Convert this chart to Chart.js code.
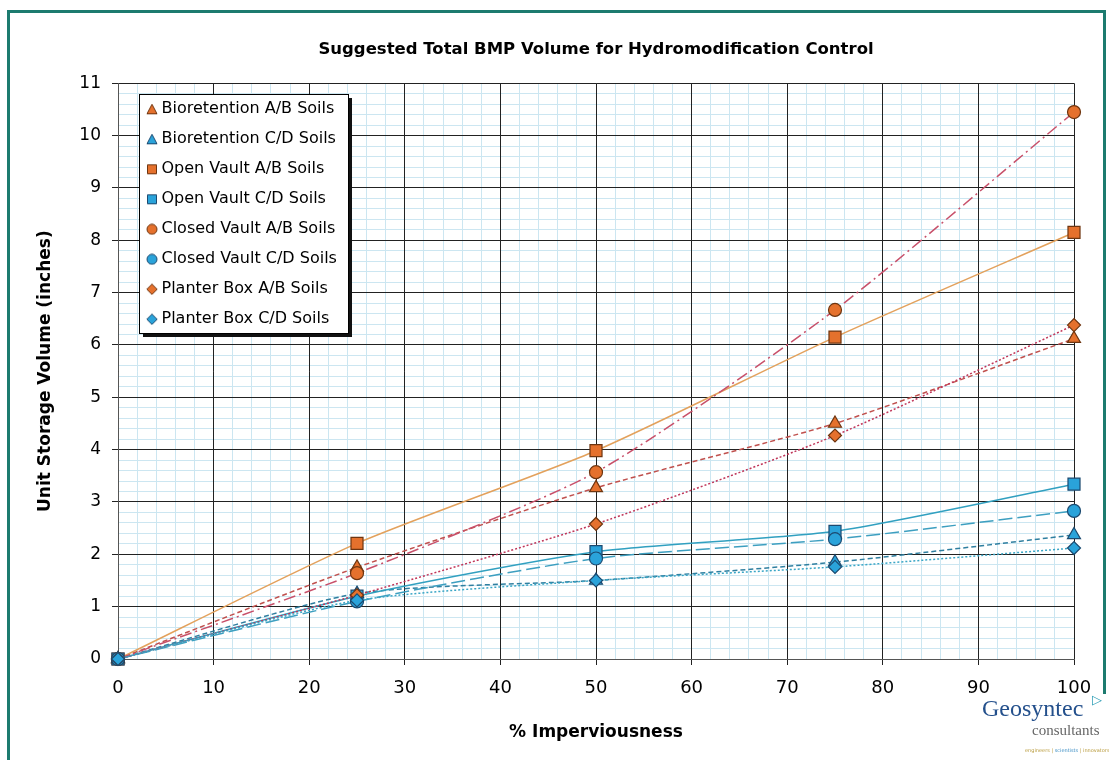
<!DOCTYPE html>
<html>
<head>
<meta charset="utf-8">
<title>Suggested Total BMP Volume for Hydromodification Control</title>
<script src="https://cdn.jsdelivr.net/npm/chart.js@4.4.0/dist/chart.umd.min.js"></script>
<style>
  html, body { margin: 0; padding: 0; background: #fff; }
  #wrap { position: relative; width: 1109px; height: 760px; overflow: hidden; }
  #frame { position: absolute; left: 7px; top: 10px; width: 1093px; height: 760px;
           border: 3px solid #1d7b6f; pointer-events: none; }
  #logo { position: absolute; left: 980px; top: 694px; width: 129px; height: 66px; background: #fff; }
  #logo .name { position: absolute; left: 2px; top: 1px; font: 24px "Liberation Serif", "DejaVu Serif", serif; color: #24508c; }
  #logo .tri { position: absolute; left: 112px; top: -2px; font: bold 13px "DejaVu Sans", sans-serif; color: #2a9cb4; }
  #logo .sub { position: absolute; left: 52px; top: 28px; font: 15px "Liberation Serif", "DejaVu Serif", serif; color: #666; }
  #logo .tag { position: absolute; left: 45px; top: 53px; font: 5px "DejaVu Sans", sans-serif; color: #b89a3a; white-space: nowrap; }
  #logo .tag span { color: #3d8fc4; }
</style>
</head>
<body>
<div id="wrap">
  <canvas id="bmpChart" width="1109" height="760"></canvas>
  <div id="frame"></div>
  <div id="logo">
    <div class="name">Geosyntec</div>
    <div class="tri">▷</div>
    <div class="sub">consultants</div>
    <div class="tag">engineers | <span>scientists</span> | innovators</div>
  </div>
</div>
<script>
// % imperviousness
const imperviousness = [0, 25, 50, 75, 100];

// unit storage volume (inches)
const bioretentionAB = [0, 1.75, 3.27, 4.50, 6.12];
const bioretentionCD = [0, 1.25, 1.50, 1.85, 2.37];
const openVaultAB    = [0, 2.21, 3.98, 6.15, 8.15];
const openVaultCD    = [0, 1.20, 2.05, 2.44, 3.34];
const closedVaultAB  = [0, 1.64, 3.57, 6.67, 10.45];
const closedVaultCD  = [0, 1.10, 1.92, 2.29, 2.83];
const planterBoxAB   = [0, 1.22, 2.58, 4.27, 6.38];
const planterBoxCD   = [0, 1.12, 1.50, 1.76, 2.12];

const xTicks = { min: 0, max: 100, step: 10 };
const yTicks = { min: 0, max: 11, step: 1 };

const FONT = "'DejaVu Sans', Verdana, sans-serif";
const ORANGE = '#e5712d', ORANGE_EDGE = '#6e3510';
const BLUE = '#2aa3da', BLUE_EDGE = '#1c4a70';
const MINOR = 'rgb(204,230,241)';

function toPoints(values) {
  return values.map((v, i) => ({ x: imperviousness[i], y: v }));
}

// small marker icons for the legend so every shape comes out the same size
function legendIcon(shape, fill, edge) {
  const s = 12, c = document.createElement('canvas');
  c.width = s; c.height = s;
  const g = c.getContext('2d');
  g.beginPath();
  if (shape === 'triangle') { g.moveTo(6, 1); g.lineTo(11, 10.5); g.lineTo(1, 10.5); g.closePath(); }
  else if (shape === 'rect') { g.rect(1.5, 1.5, 9, 9); }
  else if (shape === 'circle') { g.arc(6, 6, 5, 0, Math.PI * 2); }
  else { g.moveTo(6, 0.8); g.lineTo(11.2, 6); g.lineTo(6, 11.2); g.lineTo(0.8, 6); g.closePath(); }
  g.fillStyle = fill; g.fill();
  g.lineWidth = 1; g.strokeStyle = edge; g.stroke();
  return c;
}

function series(label, values, shape, radius, fill, edge, line, dash, order) {
  return {
    label: label,
    data: toPoints(values),
    xAxisID: 'x', yAxisID: 'y',
    order: order,
    borderColor: line,
    borderWidth: 1.5,
    borderDash: dash,
    backgroundColor: fill,
    pointStyle: shape,
    pointRadius: radius,
    pointHoverRadius: radius,
    pointBackgroundColor: fill,
    pointBorderColor: edge,
    pointBorderWidth: 1.2,
    legendIcon: legendIcon(shape, fill, edge),
    tension: 0.22,
    clip: false,
    fill: false
  };
}

const datasets = [
  series('Bioretention A/B Soils', bioretentionAB, 'triangle', 7.5, ORANGE, ORANGE_EDGE, '#c0504d', [5, 3], 8),
  series('Bioretention C/D Soils', bioretentionCD, 'triangle', 7.5, BLUE, BLUE_EDGE, '#2f7fa0', [5, 3], 7),
  series('Open Vault A/B Soils', openVaultAB, 'rect', 8.5, ORANGE, ORANGE_EDGE, '#e3a15c', [], 6),
  series('Open Vault C/D Soils', openVaultCD, 'rect', 8.5, BLUE, BLUE_EDGE, '#31a0c0', [], 5),
  series('Closed Vault A/B Soils', closedVaultAB, 'circle', 6.5, ORANGE, ORANGE_EDGE, '#c8506a', [12, 4, 2, 4], 4),
  series('Closed Vault C/D Soils', closedVaultCD, 'circle', 6.5, BLUE, BLUE_EDGE, '#3d9fc0', [14, 5], 3),
  series('Planter Box A/B Soils', planterBoxAB, 'rectRot', 6.5, ORANGE, ORANGE_EDGE, '#c0365a', [2, 2], 2),
  series('Planter Box C/D Soils', planterBoxCD, 'rectRot', 6.5, BLUE, BLUE_EDGE, '#3aa6c6', [2, 2], 1)
];

// white legend panel with drop shadow, drawn inside the plot area
const legendPanel = {
  id: 'legendPanel',
  afterLayout(chart) {
    const lg = chart.legend, ca = chart.chartArea;
    lg.left = ca.left + 18.5;
    lg.top = ca.top + 4;
    lg.right = ca.right;
    lg.bottom = ca.bottom;
    lg.width = lg.right - lg.left;
    lg.height = lg.bottom - lg.top;
  },
  afterDatasetsDraw(chart) {
    const lg = chart.legend, boxes = lg.legendHitBoxes;
    if (!boxes || !boxes.length) return;
    let l = Infinity, t = Infinity, r = -Infinity, b = -Infinity;
    boxes.forEach(h => {
      l = Math.min(l, h.left); t = Math.min(t, h.top);
      r = Math.max(r, h.left + h.width); b = Math.max(b, h.top + h.height);
    });
    l = Math.round(l - 12); t = Math.round(t - 7);
    r = Math.round(r + 11); b = Math.round(b + 6);
    const ctx = chart.ctx;
    ctx.save();
    ctx.fillStyle = '#111';
    ctx.fillRect(l + 4, t + 4, r - l, b - t);
    ctx.fillStyle = '#fff';
    ctx.fillRect(l, t, r - l, b - t);
    ctx.strokeStyle = '#000';
    ctx.lineWidth = 1;
    ctx.strokeRect(l + 0.5, t + 0.5, r - l, b - t);
    ctx.restore();
    lg.draw();
  }
};

new Chart('bmpChart', {
  type: 'line',
  data: { datasets: datasets },
  options: {
    responsive: false,
    animation: false,
    events: [],
    layout: { padding: { left: 20, right: 35, top: 0, bottom: 0 } },
    plugins: {
      title: {
        display: true,
        fullSize: false,
        text: 'Suggested Total BMP Volume for Hydromodification Control',
        color: '#000',
        font: { family: FONT, size: 16.5, weight: 'bold' },
        padding: { top: 40, bottom: 23.5 }
      },
      legend: {
        position: 'chartArea',
        align: 'start',
        labels: {
          usePointStyle: true,
          boxWidth: 3,
          boxHeight: 8,
          padding: 14,
          color: '#000',
          font: { family: FONT, size: 16 },
          generateLabels(chart) {
            return chart.data.datasets.map((ds, i) => ({
              text: ds.label,
              fillStyle: ds.pointBackgroundColor,
              strokeStyle: ds.pointBorderColor,
              lineWidth: 1,
              lineDash: [],
              pointStyle: ds.legendIcon,
              rotation: 0,
              hidden: false,
              fontColor: '#000',
              datasetIndex: i
            }));
          }
        }
      },
      tooltip: { enabled: false }
    },
    scales: {
      xMinor: {
        type: 'linear', position: 'bottom', min: xTicks.min, max: xTicks.max,
        ticks: { display: false, stepSize: 2 },
        grid: { color: MINOR, drawTicks: false },
        border: { display: false },
        afterFit(s) { s.height = 0; }
      },
      yMinor: {
        type: 'linear', position: 'left', min: yTicks.min, max: yTicks.max,
        ticks: { display: false, stepSize: 0.2 },
        grid: { color: MINOR, drawTicks: false },
        border: { display: false },
        afterFit(s) { s.width = 0; }
      },
      x: {
        type: 'linear', position: 'bottom', min: xTicks.min, max: xTicks.max,
        ticks: { stepSize: xTicks.step, color: '#000', padding: 13, font: { family: FONT, size: 18 } },
        grid: { color: '#222', tickLength: 6 },
        border: { color: '#555' },
        title: {
          display: true, text: '% Imperviousness', color: '#000',
          font: { family: FONT, size: 17, weight: 'bold' },
          padding: { top: 0, bottom: 17 }
        },
        afterFit(s) { s.height = 101; }
      },
      y: {
        type: 'linear', position: 'left', min: yTicks.min, max: yTicks.max,
        ticks: { stepSize: yTicks.step, color: '#000', padding: 11, font: { family: FONT, size: 17 } },
        grid: { color: '#222', tickLength: 6 },
        border: { color: '#555' },
        title: {
          display: true, text: 'Unit Storage Volume (inches)', color: '#000',
          font: { family: FONT, size: 17, weight: 'bold' },
          padding: { top: 15, bottom: 0 }
        },
        afterFit(s) { s.width = 98; }
      }
    }
  },
  plugins: [legendPanel]
});
</script>
</body>
</html>
